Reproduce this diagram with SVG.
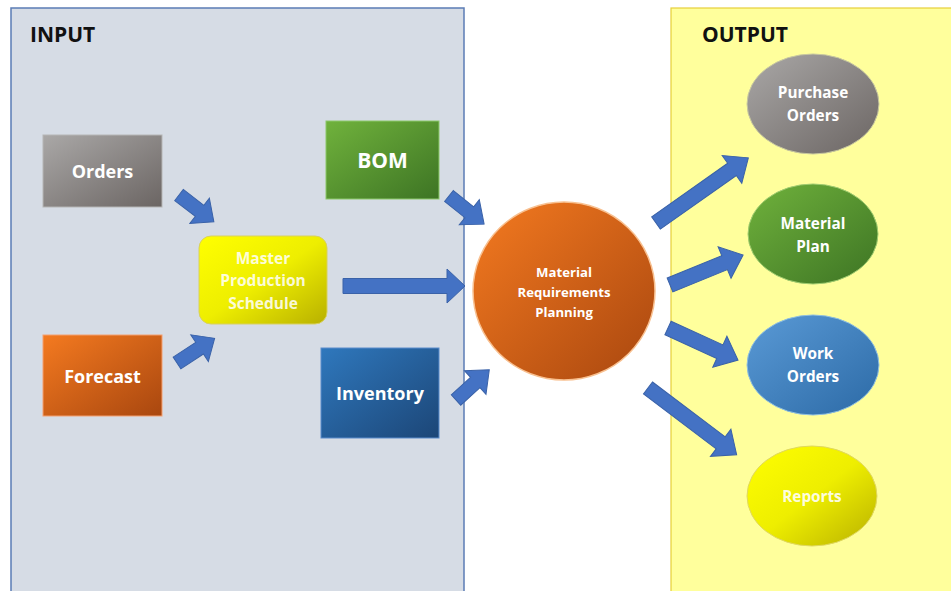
<svg xmlns="http://www.w3.org/2000/svg" width="951" height="591" viewBox="0 0 951 591">
<defs>
<style>
.lbl{font-family:"Open Sans","Liberation Sans",sans-serif;font-weight:bold;fill:#ffffff;text-anchor:middle}
.title{font-family:"Open Sans","Liberation Sans",sans-serif;font-weight:bold;fill:#111111;font-size:21px}
.arrow{fill:#4472c4;stroke:#3a62a8;stroke-width:1}
</style>
<linearGradient id="gGray" x1="0" y1="0" x2="1" y2="1"><stop offset="0" stop-color="#aaa8a7"/><stop offset="1" stop-color="#6b6563"/></linearGradient>
<linearGradient id="gGreen" x1="0" y1="0" x2="1" y2="1"><stop offset="0" stop-color="#70b23c"/><stop offset="1" stop-color="#3d7424"/></linearGradient>
<linearGradient id="gYellow" x1="0" y1="0" x2="1" y2="1"><stop offset="0" stop-color="#ffff00"/><stop offset="0.5" stop-color="#eeee00"/><stop offset="1" stop-color="#b8b000"/></linearGradient>
<linearGradient id="gOrange" x1="0" y1="0" x2="1" y2="1"><stop offset="0" stop-color="#f47a20"/><stop offset="1" stop-color="#a9470f"/></linearGradient>
<linearGradient id="gBlue" x1="0" y1="0" x2="1" y2="1"><stop offset="0" stop-color="#2f78bd"/><stop offset="1" stop-color="#1c4677"/></linearGradient>
<linearGradient id="gLBlue" x1="0" y1="0" x2="1" y2="1"><stop offset="0" stop-color="#5a9ad6"/><stop offset="1" stop-color="#2c6aa6"/></linearGradient>
<path id="arrowShort" d="M0,-7 L26,-7 L26,-16 L44,0 L26,16 L26,7 L0,7 Z"/>
</defs>

<rect x="0" y="0" width="951" height="591" fill="#ffffff"/>

<g id="input-panel">
<rect x="11" y="8" width="453" height="600" fill="#d6dce5" stroke="#5b7cb5" stroke-width="1.5"/>
<text class="title" x="30" y="42">INPUT</text>
</g>
<g id="output-panel">
<rect x="671" y="8" width="300" height="600" fill="#ffff9c" stroke="#e6cf3a" stroke-width="1.2"/>
<text class="title" x="702" y="42">OUTPUT</text>
</g>

<g id="connectors">
<path class="arrow" transform="translate(179,195) rotate(37.6)" d="M0,-7 L26,-7 L26,-16 L44,0 L26,16 L26,7 L0,7 Z"/>
<path class="arrow" transform="translate(177,363) rotate(-33.3)" d="M0,-7 L27,-7 L27,-16 L45,0 L27,16 L27,7 L0,7 Z"/>
<path class="arrow" transform="translate(343,286)" d="M0,-7.5 L104,-7.5 L104,-17 L122,0 L104,17 L104,7.5 L0,7.5 Z"/>
<path class="arrow" transform="translate(449,196) rotate(38.7)" d="M0,-7 L26,-7 L26,-16 L45,0 L26,16 L26,7 L0,7 Z"/>
<path class="arrow" transform="translate(456,400) rotate(-42.3)" d="M0,-7 L26,-7 L26,-16 L45,0 L26,16 L26,7 L0,7 Z"/>
<path class="arrow" transform="translate(656,223) rotate(-35.2)" d="M0,-7.5 L93,-7.5 L93,-17 L113,0 L93,17 L93,7.5 L0,7.5 Z"/>
<path class="arrow" transform="translate(670,285) rotate(-22.3)" d="M0,-7.5 L59,-7.5 L59,-17 L79,0 L59,17 L59,7.5 L0,7.5 Z"/>
<path class="arrow" transform="translate(668,328) rotate(24.6)" d="M0,-7.5 L57,-7.5 L57,-17 L77,0 L57,17 L57,7.5 L0,7.5 Z"/>
<path class="arrow" transform="translate(648,388) rotate(37)" d="M0,-7.5 L91,-7.5 L91,-17 L111,0 L91,17 L91,7.5 L0,7.5 Z"/>
</g>

<g id="orders">
<rect x="43" y="135" width="119" height="72" fill="url(#gGray)" stroke="#b5b5b5" stroke-width="1"/>
<text class="lbl" x="102.5" y="178" font-size="18">Orders</text>
</g>
<g id="forecast">
<rect x="43" y="335" width="119" height="81" fill="url(#gOrange)" stroke="#f4a070" stroke-width="1"/>
<text class="lbl" x="102.5" y="383" font-size="18">Forecast</text>
</g>
<g id="bom">
<rect x="326" y="121" width="113" height="78" fill="url(#gGreen)" stroke="#8cc86a" stroke-width="1"/>
<text class="lbl" x="382.5" y="168" font-size="21">BOM</text>
</g>
<g id="mps">
<rect x="199" y="236" width="128" height="88" rx="12" ry="12" fill="url(#gYellow)" stroke="#d8d060" stroke-width="1"/>
<text class="lbl" x="263" y="264" font-size="15.5" fill-opacity="0.85">Master</text>
<text class="lbl" x="263" y="286" font-size="15.5" fill-opacity="0.85">Production</text>
<text class="lbl" x="263" y="309" font-size="15.5" fill-opacity="0.85">Schedule</text>
</g>
<g id="inventory">
<rect x="321" y="348" width="118" height="90" fill="url(#gBlue)" stroke="#5a8ccc" stroke-width="1"/>
<text class="lbl" x="380" y="400" font-size="18">Inventory</text>
</g>
<g id="mrp">
<ellipse cx="564" cy="291" rx="91" ry="89" fill="url(#gOrange)" stroke="#f8c090" stroke-width="1.5"/>
<text class="lbl" x="564" y="277" font-size="13.2">Material</text>
<text class="lbl" x="564" y="297" font-size="13.2">Requirements</text>
<text class="lbl" x="564" y="317" font-size="13.2">Planning</text>
</g>
<g id="purchase-orders">
<ellipse cx="813" cy="104" rx="66" ry="50" fill="url(#gGray)" stroke="#c8c8a0" stroke-width="1"/>
<text class="lbl" x="813" y="98" font-size="15.3">Purchase</text>
<text class="lbl" x="813" y="121" font-size="15.3">Orders</text>
</g>
<g id="material-plan">
<ellipse cx="813" cy="234" rx="65" ry="50" fill="url(#gGreen)" stroke="#a0cc70" stroke-width="1"/>
<text class="lbl" x="813" y="229" font-size="15.3">Material</text>
<text class="lbl" x="813" y="252" font-size="15.3">Plan</text>
</g>
<g id="work-orders">
<ellipse cx="813" cy="365" rx="66" ry="50" fill="url(#gLBlue)" stroke="#90c0e0" stroke-width="1"/>
<text class="lbl" x="813" y="359" font-size="15.3">Work</text>
<text class="lbl" x="813" y="382" font-size="15.3">Orders</text>
</g>
<g id="reports">
<ellipse cx="812" cy="496" rx="65" ry="50" fill="url(#gYellow)" stroke="#e0d860" stroke-width="1"/>
<text class="lbl" x="812" y="502" font-size="15.3" fill-opacity="0.9">Reports</text>
</g>
</svg>
